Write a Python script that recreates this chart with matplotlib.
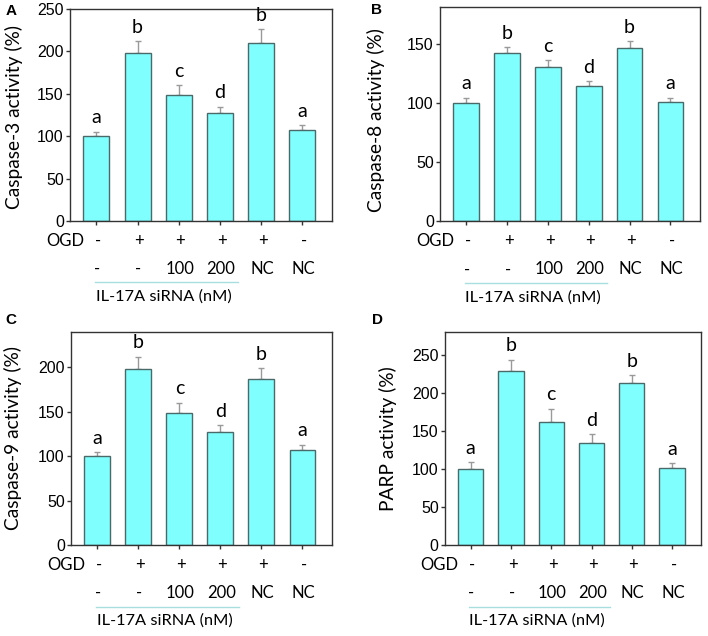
import matplotlib
matplotlib.use("Agg")
import matplotlib.pyplot as plt
import matplotlib.transforms as mtransforms
import numpy as np

# groups: OGD / IL-17A siRNA (nM)
ogd = ["-", "+", "+", "+", "+", "-"]
sirna = ["-", "-", "100", "200", "NC", "NC"]
letters = ["a", "b", "c", "d", "b", "a"]

casp3 = [100, 198, 149, 127, 210, 107]
casp3_err = [5, 14, 11, 8, 16, 6]
casp8 = [100, 142, 130, 114, 146, 101]
casp8_err = [4, 5, 6, 4, 6, 3]
casp9 = [100, 198, 149, 127, 187, 107]
casp9_err = [4.5, 14, 11, 8, 12, 6]
parp = [100, 229, 162, 134, 213, 102]
parp_err = [9, 15, 18, 12, 11, 6]

bar_face = "#80ffff"
bar_edge = "#4a6a6a"
err_col = "#9a9a9a"
line_col = "#a8dede"

plt.rcParams["font.family"] = ["Lato", "DejaVu Sans"]


def panel(ax, vals, errs, ylabel, ylim, yticks, tag, tag_pos, ylab_pos):
	x = np.arange(len(vals))
	ax.bar(x, vals, width=0.63, color=bar_face, edgecolor=bar_edge, linewidth=1.0, zorder=2)
	ax.errorbar(x, vals, yerr=[np.zeros(len(errs)), errs], fmt="none", ecolor=err_col,
	            elinewidth=1.0, capsize=2.5, capthick=1.0, zorder=1)
	for xi, v, e, l in zip(x, vals, errs, letters):
		ax.annotate(l, (xi, v + e), xytext=(0, 4), textcoords="offset points",
		            ha="center", va="bottom", fontsize=14)

	ax.set_xlim(-0.64, 5.72)
	ax.set_ylim(*ylim)
	ax.set_yticks(yticks)
	ax.set_xticks(x)
	ax.set_xticklabels([])
	ax.tick_params(axis="x", direction="out", length=3, width=1, color="#333333")
	ax.tick_params(axis="y", direction="out", length=3, width=1, color="#333333", pad=1.5)
	for lab in ax.get_yticklabels():
		lab.set_family("Liberation Sans")
		lab.set_fontsize(11.5)
	for s in ax.spines.values():
		s.set_color("#333333")
		s.set_linewidth(1.0)
	ax.set_ylabel(ylabel, fontsize=13.8, va="center")
	ax.yaxis.set_label_coords(*ylab_pos)

	# condition table under the axis
	tr = mtransforms.blended_transform_factory(ax.transData, ax.transAxes)
	ax.text(-0.3, -0.094, "OGD", transform=tr, ha="right", va="center", fontsize=12)
	for xi, o, s in zip(x, ogd, sirna):
		ax.text(xi + 0.04, -0.094, o, transform=tr, ha="center", va="center", fontsize=12)
		ax.text(xi + 0.02, -0.226, s, transform=tr, ha="center", va="center", fontsize=12)
	ax.plot([-0.04, 3.45], [-0.29, -0.29], transform=tr, color=line_col, lw=1.0, clip_on=False)
	ax.text(1.64, -0.356, "IL-17A siRNA (nM)", transform=tr, ha="center", va="center", fontsize=11.8)

	ax.text(tag_pos[0], tag_pos[1], tag, transform=ax.transAxes, ha="left", va="top",
	        fontsize=11, fontweight="bold", family="Liberation Sans")


fig = plt.figure(figsize=(7.08, 6.36), dpi=100)
axA = fig.add_axes([0.0989, 0.6525, 0.370, 0.3333])
axB = fig.add_axes([0.6215, 0.6526, 0.367, 0.3364])
axC = fig.add_axes([0.1003, 0.1431, 0.3686, 0.335])
axD = fig.add_axes([0.6285, 0.1431, 0.3616, 0.335])

panel(axA, casp3, casp3_err, "Caspase-3 activity (%)", (0, 250), [0, 50, 100, 150, 200, 250],
      "A", (-0.244, 1.025), (-0.215, 0.49))
panel(axB, casp8, casp8_err, "Caspase-8 activity (%)", (0, 181), [0, 50, 100, 150],
      "B", (-0.265, 1.02), (-0.246, 0.47))
panel(axC, casp9, casp9_err, "Caspase-9 activity (%)", (0, 240), [0, 50, 100, 150, 200],
      "C", (-0.25, 1.09), (-0.222, 0.5))
panel(axD, parp, parp_err, "PARP activity (%)", (0, 281), [0, 50, 100, 150, 200, 250],
      "D", (-0.285, 1.09), (-0.222, 0.5))

fig.savefig("out.png", dpi=100)
